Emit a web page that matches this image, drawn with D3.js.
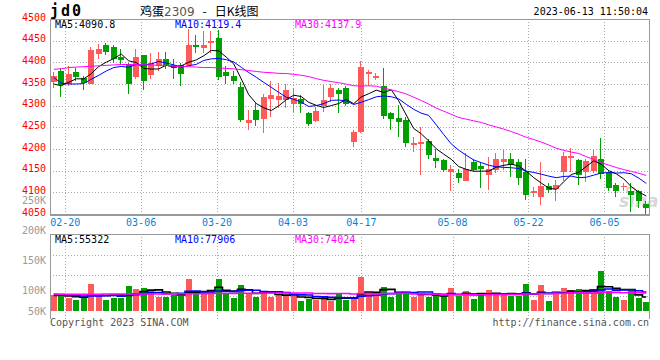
<!DOCTYPE html>
<html><head><meta charset="utf-8">
<script src="https://cdn.jsdelivr.net/npm/d3@7/dist/d3.min.js"></script>
<style>body{margin:0;background:#fff}svg{display:block}</style>
</head><body><svg id="c" width="660" height="360"></svg>
<script>
const dates = ["02-16","02-17","02-20","02-21","02-22","02-23","02-24","02-27","02-28",
"03-01","03-02","03-03","03-06","03-07","03-08","03-09","03-10","03-13","03-14","03-15","03-16","03-17","03-20","03-21","03-22","03-23","03-24","03-27","03-28","03-29","03-30","03-31",
"04-03","04-04","04-06","04-07","04-10","04-11","04-12","04-13","04-14","04-17","04-18","04-19","04-20","04-21","04-24","04-25","04-26","04-27","04-28",
"05-04","05-05","05-08","05-09","05-10","05-11","05-12","05-15","05-16","05-17","05-18","05-19","05-22","05-23","05-24","05-25","05-26","05-29","05-30","05-31",
"06-01","06-02","06-05","06-06","06-07","06-08","06-09","06-12","06-13"];
const open = [4355,4380,4350,4378,4363,4351,4420,4440,4435,4413,4395,4366,4417,4371,4391,4407,4395,4394,4393,4439,4432,4445,4456,4378,4369,4344,4260,4291,4269,4316,4313,4312,4305,4315,4283,4264,4300,4319,4337,4340,4216,4239,4375,4363,4346,4283,4271,4268,4210,4212,4219,4180,4174,4146,4144,4127,4170,4161,4141,4151,4170,4178,4170,4148,4099,4090,4115,4108,4146,4180,4174,4146,4149,4178,4146,4117,4112,4102,4102,4074];
const high = [4378,4388,4392,4388,4369,4436,4442,4445,4439,4430,4399,4430,4418,4422,4424,4424,4407,4399,4477,4464,4472,4472,4475,4391,4380,4354,4289,4306,4328,4356,4353,4351,4340,4325,4285,4297,4347,4350,4340,4346,4245,4402,4382,4376,4386,4285,4302,4273,4228,4251,4224,4201,4178,4164,4155,4190,4177,4170,4182,4190,4197,4191,4178,4178,4113,4170,4121,4128,4192,4203,4177,4178,4197,4226,4151,4122,4121,4122,4106,4079];
const low = [4340,4319,4346,4357,4337,4350,4408,4416,4399,4395,4328,4361,4337,4361,4380,4384,4361,4345,4391,4422,4422,4422,4360,4350,4350,4262,4243,4252,4237,4275,4295,4295,4285,4283,4254,4262,4285,4308,4283,4300,4205,4238,4346,4360,4270,4243,4228,4204,4192,4141,4177,4157,4148,4102,4122,4127,4148,4111,4105,4144,4151,4136,4117,4083,4090,4071,4098,4079,4127,4148,4117,4123,4144,4130,4102,4090,4102,4054,4064,4051];
const close = [4368,4348,4374,4366,4353,4428,4431,4424,4407,4406,4349,4412,4356,4399,4408,4392,4388,4372,4441,4435,4440,4449,4367,4369,4356,4268,4266,4266,4320,4324,4322,4337,4318,4304,4257,4288,4312,4340,4328,4304,4239,4390,4377,4369,4277,4270,4262,4214,4213,4216,4187,4173,4151,4154,4132,4155,4151,4153,4154,4177,4177,4163,4134,4093,4102,4115,4106,4117,4183,4184,4141,4173,4183,4142,4111,4104,4115,4093,4081,4064];
const volume = [64000,60000,53000,44000,53000,108000,60000,44000,53000,53000,100000,88000,93000,84000,57000,57000,64000,60000,128000,68000,68000,84000,128000,67000,53000,104000,71000,57000,80000,57000,64000,60000,60000,40000,48000,44000,60000,40000,68000,44000,53000,137000,77000,64000,97000,57000,77000,73000,57000,67000,57000,60000,60000,93000,60000,80000,48000,68000,84000,73000,64000,60000,60000,108000,44000,104000,40000,77000,93000,84000,88000,67000,88000,160000,81000,57000,44000,88000,53000,37000];
const ma5 = [4350,4346,4354,4362,4361.8,4373.8,4390.4,4400.4,4408.6,4419.2,4403.4,4399.6,4386,4384.4,4384.8,4393.4,4388.6,4391.8,4400.2,4405.6,4415.2,4427.4,4426.4,4412,4396.2,4361.8,4325.2,4305,4295.2,4288.8,4299.6,4313.8,4324.2,4321,4307.6,4300.8,4295.8,4300.2,4305,4314.4,4304.6,4320.2,4327.6,4335.8,4330.4,4336.6,4311,4278.4,4247.2,4235,4218.4,4200.6,4188,4176.2,4159.4,4153,4148.6,4149,4149,4158,4162.4,4164.8,4161,4148.8,4133.8,4121.4,4110,4106.6,4124.6,4141,4146.2,4159.6,4172.8,4164.6,4150,4142.6,4131,4113,4100.8,4091.4];
const ma10 = [4365,4352,4350,4350,4351,4361,4370,4380,4388,4390.5,4388.6,4395,4393.2,4396.5,4402,4398.4,4394.1,4388.9,4392.3,4395.2,4404.3,4408,4409.1,4406.1,4400.9,4388.5,4376.3,4365.7,4353.6,4342.5,4330.7,4319.5,4314.6,4308.1,4298.2,4300.2,4304.8,4312.2,4313,4311,4302.7,4308,4313.9,4320.4,4322.4,4320.6,4315.6,4303,4291.5,4282.7,4277.5,4255.8,4233.2,4211.7,4197.2,4185.7,4174.6,4168.5,4162.6,4158.7,4157.7,4156.7,4155,4148.9,4145.9,4141.9,4137.4,4133.8,4136.7,4137.4,4133.8,4134.8,4139.7,4144.6,4145.5,4144.4,4145.3,4142.9,4132.7,4120.7];
const ma30 = [4384,4385,4388,4389,4390,4391,4392,4393,4394,4395,4395,4395,4394,4394,4393,4393,4391,4390,4390,4389,4388,4388,4387,4386,4385,4383,4381,4379,4377,4376.1,4374.5,4374.2,4372.3,4370.2,4367,4362.4,4358.4,4355.6,4353,4349.6,4345.9,4345.2,4345.9,4344.9,4340.5,4336.4,4332.2,4327,4319.4,4312.1,4303.6,4294.4,4287.2,4280.1,4272.6,4268.8,4265,4261.2,4255.7,4250.8,4246,4240.2,4234,4227,4221.8,4216.1,4209.2,4201.8,4197,4192.9,4189.7,4182.4,4176,4168.4,4162.9,4157.3,4152.4,4148.4,4144,4138.9];
const vma5 = [62000,63000,60000,57000,54800,63600,63600,61800,63600,63600,62000,67600,77400,83600,84400,75800,71000,64400,73200,75400,77600,81600,95200,83000,80000,87200,84600,70400,73000,73800,65800,63600,64200,56200,54400,50400,50400,46400,52000,51200,53000,68400,75800,75000,85600,86400,74400,73600,72200,66200,66200,62800,60200,67400,66000,70600,68200,69800,68000,70600,67400,69800,68200,73000,67200,75200,71200,74600,71600,79600,76400,81800,84000,97400,96800,90600,86000,86000,64600,55800];
const vma10 = [67000,66000,64000,62000,60000,60000,60000,61000,62000,59200,62800,65600,69600,73600,74000,68900,69300,70900,78400,79900,76700,76300,79800,78100,77700,82400,83100,82800,78000,76900,76500,74100,67300,64600,64100,58100,57000,55300,54100,52800,51700,59400,61100,63500,68400,69700,71400,74700,73600,75900,76300,68600,66900,69800,66100,68400,65500,65000,67700,68300,69000,69000,69000,70500,68900,71300,70500,71400,72300,73400,75800,76500,79300,84500,88200,83500,83900,85000,81000,76300];
const vma30 = [67000,67000,67000,67000,67000,67000,67000,68000,68000,68000,68000,68000,68000,68000,68000,68000,69000,69000,69000,69000,69000,70000,70000,70000,70000,71000,71000,71000,72000,72000,72000,72000,72200,72100,71900,69800,69800,69700,70200,69900,68300,69900,69400,68700,70100,70100,70500,70900,68600,68500,68200,67400,65100,66000,66200,65400,64600,65000,65100,65700,65700,65700,65700,67900,67800,69800,69100,70400,71200,72500,73700,71400,71700,74900,74400,74400,73300,73800,73700,72700];
const axisDates = ["02-20","03-06","03-20","04-03","04-17","05-08","05-22","06-05"];
const priceTicks = [4500,4450,4400,4350,4300,4250,4200,4150,4100,4050];
const volTicks = [250000,200000,150000,100000,50000];
const volTickLabels = ["250K","200K","150K","100K","50K"];
const priceLegend = ["MA5:4090.8","MA10:4119.4","MA30:4137.9"];
const volLegend = ["MA5:55322","MA10:77906","MA30:74024"];
const legendColors = ["#000000","#0000ff","#ff00ff"];

const L = 50, R = 650, PT = 19, PB = 214, VT = 234, VB = 311, VBot = 319;
const UP = "#ff5a5a", DOWN = "#00a000", GRID = "#a8a8a8", FRAME = "#999999";
const mono = "'DejaVu Sans Mono', 'Liberation Mono', monospace";

const svg = d3.select("#c");
svg.append("rect").attr("width",660).attr("height",360).attr("fill","#fff");

const xBand = d3.scaleBand().domain(dates).range([L, R]);
const xPoint = d3.scalePoint().domain(dates).range([L, R]);
const yP = d3.scaleLinear().domain([4050, 4500]).range([PB, PT]);
const yV = d3.scaleLinear().domain([0, 308000]).range([VB, VT]);
const yVLabel = d3.scaleLinear().domain([100000, 250000]).range([290.5, 200]);
const cxExact = d => xBand(d) + xBand.bandwidth() / 2;
const cx = d => Math.round(cxExact(d));

const data = dates.map((d, i) => ({d, o: open[i], h: high[i], l: low[i], c: close[i], v: volume[i]}));
const col = r => r.c >= r.o ? UP : DOWN;

// grid
const grid = svg.append("g").attr("stroke", GRID).attr("stroke-dasharray", "1,2").attr("shape-rendering","crispEdges");
grid.selectAll("line.h").data(priceTicks.slice(1, -1)).join("line")
  .attr("x1", L).attr("x2", R).attr("y1", t => Math.round(yP(t)) + 0.5).attr("y2", t => Math.round(yP(t)) + 0.5);
grid.selectAll("line.vp").data(axisDates).join("line")
  .attr("x1", d => Math.round(xPoint(d)) + 0.5).attr("x2", d => Math.round(xPoint(d)) + 0.5)
  .attr("y1", PT).attr("y2", PB);
grid.selectAll("line.vv").data(axisDates).join("line")
  .attr("x1", d => Math.round(xPoint(d)) + 0.5).attr("x2", d => Math.round(xPoint(d)) + 0.5)
  .attr("y1", VT).attr("y2", VBot + 2);
grid.selectAll("line.hv").data([1,2,3]).join("line")
  .attr("x1", L).attr("x2", R).attr("y1", k => Math.round(VT + k * 20.6) + 0.5).attr("y2", k => Math.round(VT + k * 20.6) + 0.5);

// frames
const fr = svg.append("g").attr("fill","none").attr("stroke", FRAME).attr("shape-rendering","crispEdges");
fr.append("path").attr("d", `M${L+0.5},${PT+0.5}H${R-0.5}V${PB}M${L+0.5},${PT}V${PB}`);
fr.append("line").attr("x1", L).attr("x2", R).attr("y1", PB + 1).attr("y2", PB + 1).attr("stroke-width", 2);
fr.append("path").attr("d", `M${L+0.5},${VT+0.5}H${R-0.5}V${VBot}M${L+0.5},${VT}V${VBot}`);

// clip
svg.append("clipPath").attr("id","cp").append("rect").attr("x", L+1).attr("y", PT+1).attr("width", R-L-2).attr("height", PB-PT-1);
svg.append("clipPath").attr("id","cv").append("rect").attr("x", L+1).attr("y", VT+1).attr("width", R-L-2).attr("height", VB-VT);

// watermark
const wm = svg.append("g").attr("opacity", 0.55);
wm.append("text").attr("x", 619).attr("y", 207).attr("font-family","'DejaVu Sans', sans-serif").attr("font-weight","bold")
  .attr("font-style","italic").attr("font-size", 17).attr("fill", "#b8b8b8").text("sina");
wm.append("ellipse").attr("cx", 631).attr("cy", 190).attr("rx", 4).attr("ry", 2.5).attr("fill","none").attr("stroke","#f08080").attr("stroke-width",1.5);

// candles
const cg = svg.append("g").attr("clip-path","url(#cp)").attr("shape-rendering","crispEdges");
cg.selectAll("rect.w").data(data).join("rect")
  .attr("x", r => cx(r.d) - 1).attr("width", 1)
  .attr("y", r => yP(r.h)).attr("height", r => Math.max(1, yP(r.l) - yP(r.h)))
  .attr("fill", col);
cg.selectAll("rect.b").data(data).join("rect")
  .attr("x", r => cx(r.d) - 3).attr("width", 6)
  .attr("y", r => yP(Math.max(r.o, r.c))).attr("height", r => Math.max(1.5, Math.abs(yP(r.o) - yP(r.c))))
  .attr("fill", col);

// price MAs
const lg = svg.append("g").attr("clip-path","url(#cp)").attr("fill","none").attr("stroke-width",1);
[ma5, ma10, ma30].forEach((arr, k) => {
  lg.append("path").datum(arr)
    .attr("stroke", legendColors[k])
    .attr("d", d3.line().x((v, i) => cxExact(dates[i])).y(v => yP(v)));
});

// volume bars
const vg = svg.append("g").attr("clip-path","url(#cv)").attr("shape-rendering","crispEdges");
vg.selectAll("rect").data(data).join("rect")
  .attr("x", r => cx(r.d) - 3).attr("width", 6)
  .attr("y", r => yV(r.v)).attr("height", r => VB - yV(r.v))
  .attr("fill", col);
const vl = svg.append("g").attr("clip-path","url(#cv)").attr("fill","none").attr("stroke-width",1.6);
[vma5, vma10, vma30].forEach((arr, k) => {
  vl.append("path").datum(arr)
    .attr("stroke", legendColors[k])
    .attr("d", d3.line().curve(d3.curveStep).x((v, i) => cxExact(dates[i])).y(v => yV(v)));
});

// labels
const txt = svg.append("g").attr("font-family", mono).attr("font-size", 10);
txt.selectAll("text.p").data(priceTicks).join("text")
  .attr("x", 46).attr("y", t => yP(t) - 2).attr("dy", "0.35em").attr("text-anchor","end")
  .attr("fill", "#ff0000").text(t => t);
txt.selectAll("text.v").data(volTicks).join("text")
  .attr("x", 46).attr("y", (t) => Math.min(yVLabel(t), VB)).attr("dy", "0.35em").attr("text-anchor","end")
  .attr("fill", "#9a9a9a").text((t, i) => volTickLabels[i]);
txt.selectAll("text.d").data(axisDates).join("text")
  .attr("x", d => xPoint(d)).attr("y", 226).attr("text-anchor","middle")
  .attr("fill", "#0b7fd4").text(d => d);
const legX = [55, 175, 295];
txt.selectAll("text.lp").data(priceLegend).join("text")
  .attr("x", (d, i) => legX[i]).attr("y", 27.5).attr("fill", (d, i) => legendColors[i]).text(d => d);
txt.selectAll("text.lv").data(volLegend).join("text")
  .attr("x", (d, i) => legX[i]).attr("y", 242.5).attr("fill", (d, i) => legendColors[i]).text(d => d);
txt.append("text").attr("x", 648).attr("y", 15).attr("text-anchor","end").attr("fill","#000").text("2023-06-13 11:50:04");
txt.append("text").attr("x", 50).attr("y", 326).attr("fill","#555").text("Copyright 2023 SINA.COM");
txt.append("text").attr("x", 649).attr("y", 326).attr("text-anchor","end").attr("fill","#555").text("http://finance.sina.com.cn");

// title
svg.append("text").attr("x", 50).attr("y", 16).attr("font-family", mono).attr("font-weight","bold")
  .attr("font-size", 15).attr("letter-spacing", 2).attr("fill","#000").text("jd0");
const tt = svg.append("text").attr("x", 140).attr("y", 15.5).attr("font-family","'Noto Sans CJK SC', sans-serif").attr("font-size", 12).attr("fill","#000");
tt.append("tspan").text("鸡蛋");
tt.append("tspan").attr("fill","#555").attr("font-family","'DejaVu Sans', sans-serif").text("2309");
tt.append("tspan").attr("dx", 8).text("-");
tt.append("tspan").attr("dx", 8).text("日K线图");
</script></body></html>
